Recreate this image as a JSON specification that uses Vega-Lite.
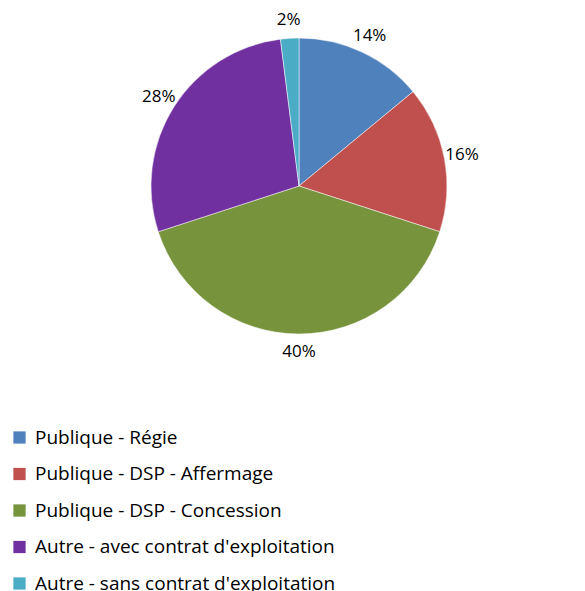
{
  "$schema": "https://vega.github.io/schema/vega-lite/v6.json",
  "width": 598,
  "height": 372,
  "padding": 0,
  "background": "white",
  "data": {
    "values": [
      {"categorie": "Publique - Régie", "part": 0.14, "ordre": 1},
      {"categorie": "Publique - DSP - Affermage", "part": 0.16, "ordre": 2},
      {"categorie": "Publique - DSP - Concession", "part": 0.40, "ordre": 3},
      {"categorie": "Autre - avec contrat d'exploitation", "part": 0.28, "ordre": 4},
      {"categorie": "Autre - sans contrat d'exploitation", "part": 0.02, "ordre": 5}
    ]
  },
  "encoding": {
    "theta": {"field": "part", "type": "quantitative", "stack": true},
    "order": {"field": "ordre", "type": "quantitative"}
  },
  "layer": [
    {
      "mark": {"type": "arc", "outerRadius": 148, "stroke": "white", "strokeWidth": 0.5},
      "encoding": {
        "color": {
          "field": "categorie",
          "type": "nominal",
          "sort": ["Publique - Régie", "Publique - DSP - Affermage", "Publique - DSP - Concession", "Autre - avec contrat d'exploitation", "Autre - sans contrat d'exploitation"],
          "scale": {
            "domain": ["Publique - Régie", "Publique - DSP - Affermage", "Publique - DSP - Concession", "Autre - avec contrat d'exploitation", "Autre - sans contrat d'exploitation"],
            "range": ["#4F81BD", "#C0504D", "#77933C", "#7030A0", "#4BACC6"]
          },
          "legend": {
            "title": null,
            "orient": "none",
            "legendX": 10,
            "legendY": 428,
            "symbolType": "square",
            "symbolSize": 150,
            "symbolStrokeWidth": 0,
            "labelFont": "Open Sans",
            "labelFontSize": 19,
            "labelColor": "#000000",
            "labelLimit": 400,
            "rowPadding": 16.5,
            "symbolOffset": 0,
            "labelOffset": 6
          }
        }
      }
    },
    {
      "mark": {"type": "text", "radius": 166, "font": "Open Sans", "fontSize": 17, "color": "#000000"},
      "encoding": {
        "text": {"field": "part", "type": "quantitative", "format": ".0%"},
        "detail": {"field": "categorie"}
      }
    }
  ]
}
